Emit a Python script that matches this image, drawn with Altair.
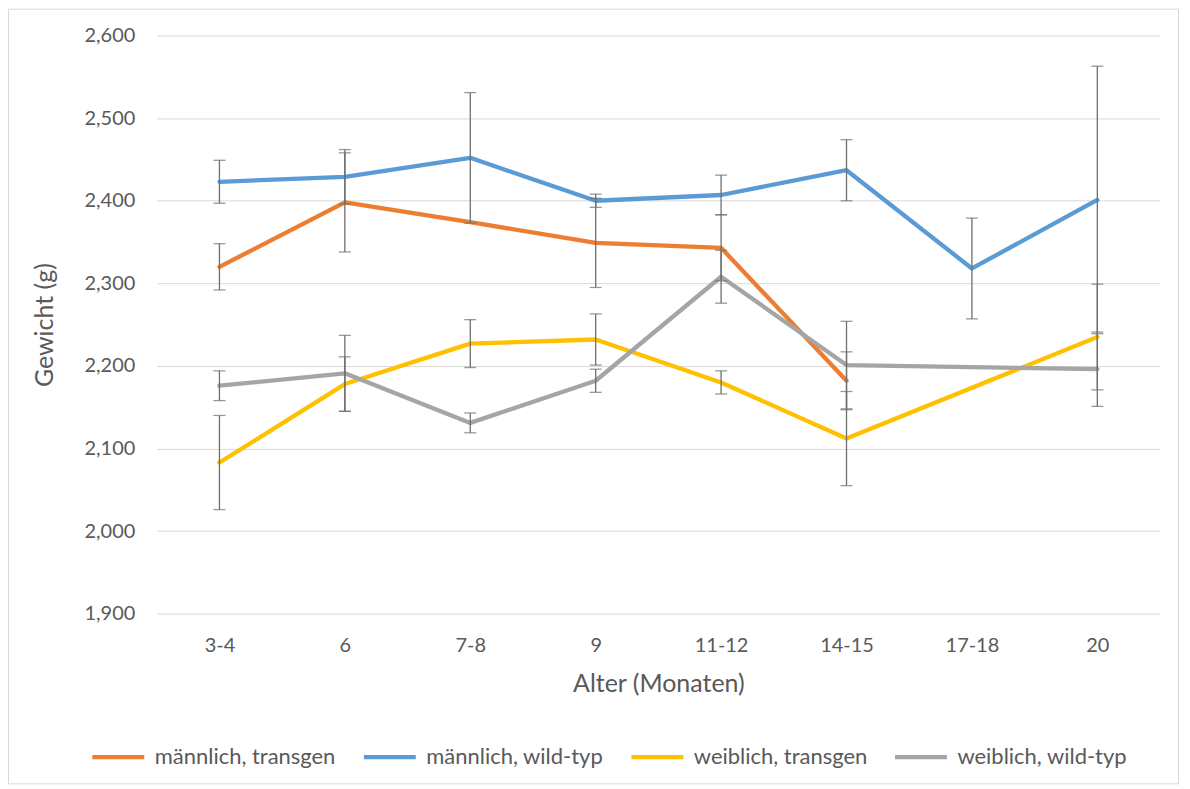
import altair as alt
import pandas as pd

categories = ["3-4", "6", "7-8", "9", "11-12", "14-15", "17-18", "20"]
series_names = ["männlich, transgen", "männlich, wild-typ", "weiblich, transgen", "weiblich, wild-typ"]
series_colors = ["#ED7D31", "#5B9BD5", "#FFC000", "#A5A5A5"]

m_transgen = [2320, 2398, 2374, 2349, 2343, 2182, None, None]
m_transgen_err = [28, 60, None, 54, 40, 35, None, None]

m_wild = [2423, 2429, 2452, 2400, 2407, 2437, 2318, 2401]
m_wild_err = [26, 33, 79, 8, 24, 37, 61, 162]

w_transgen = [2083, 2178, 2227, 2232, 2180, 2112, None, 2235]
w_transgen_err = [57, 33, 29, 31, 14, 57, None, 64]

w_wild = [2176, 2191, 2131, 2182, 2308, 2201, None, 2196]
w_wild_err = [18, 46, 12, 14, 32, 53, None, 45]

y_ticks = [1900, 2000, 2100, 2200, 2300, 2400, 2500, 2600]

rows = []
for name, vals, errs in zip(series_names,
                            [m_transgen, m_wild, w_transgen, w_wild],
                            [m_transgen_err, m_wild_err, w_transgen_err, w_wild_err]):
    for c, v, e in zip(categories, vals, errs):
        if v is None:
            continue
        rows.append({"Alter": c, "Serie": name, "Gewicht": v, "Fehler": e})
df = pd.DataFrame(rows)

FONT = "Lato"
TXT = "#595959"

x_enc = alt.X("Alter:N",
              scale=alt.Scale(type="point", domain=categories, padding=0.5),
              axis=alt.Axis(title="Alter (Monaten)", labelAngle=0, ticks=False, domain=False,
                            grid=False, labelPadding=22, titlePadding=16))
y_scale = alt.Scale(domain=[1900, 2600], nice=False, zero=False)
y_axis = alt.Axis(title="Gewicht (g)", values=y_ticks, format=",.0f", ticks=False,
                  domain=False, gridColor="#D9D9D9", gridWidth=1,
                  labelPadding=22, titlePadding=26)

base = alt.Chart(df)

lines = base.mark_line(strokeWidth=4.3, strokeCap="round", strokeJoin="round").encode(
    x=x_enc,
    y=alt.Y("Gewicht:Q", scale=y_scale, axis=y_axis),
    color=alt.Color("Serie:N", scale=alt.Scale(domain=series_names, range=series_colors),
                    legend=alt.Legend(orient="none", legendX=-67, legendY=694,
                                      direction="horizontal", columns=4, title=None,
                                      symbolType="stroke", symbolSize=2704,
                                      symbolStrokeWidth=4.3, labelFontSize=22,
                                      labelFont=FONT, labelColor=TXT, labelOffset=8,
                                      columnPadding=18, labelLimit=400)),
)

err = base.transform_filter("isValid(datum.Fehler) && datum.Fehler > 0").transform_calculate(
    lo="datum.Gewicht - datum.Fehler", hi="datum.Gewicht + datum.Fehler")

err_rule = err.mark_rule(color="#6E6E6E", strokeWidth=1.3).encode(
    x=x_enc,
    y=alt.Y("lo:Q", scale=y_scale, axis=y_axis),
    y2="hi:Q",
)
cap_lo = err.mark_tick(color="#6E6E6E", thickness=1.3, size=12).encode(
    x=x_enc, y=alt.Y("lo:Q", scale=y_scale, axis=y_axis))
cap_hi = err.mark_tick(color="#6E6E6E", thickness=1.3, size=12).encode(
    x=x_enc, y=alt.Y("hi:Q", scale=y_scale, axis=y_axis))

frame = alt.Chart(alt.Data(values=[{}])).mark_rect(fillOpacity=0, stroke="#D9D9D9", strokeWidth=1).encode(
    x=alt.value(-148.5), x2=alt.value(1023.5), y=alt.value(-26.5), y2=alt.value(749.5))

chart = alt.layer(lines, err_rule, cap_lo, cap_hi, frame).properties(
    width=1005, height=579,
    autosize=alt.AutoSizeParams(type="none"),
    padding={"left": 149, "top": 27, "right": 22, "bottom": 172},
    background="white",
).configure_axis(
    labelFont=FONT, labelFontSize=20, labelColor=TXT,
    titleFont=FONT, titleFontSize=25, titleColor=TXT, titleFontWeight="normal",
).configure_view(stroke=None)

chart.save("out.html", embed_options={"renderer": "svg", "actions": False})
